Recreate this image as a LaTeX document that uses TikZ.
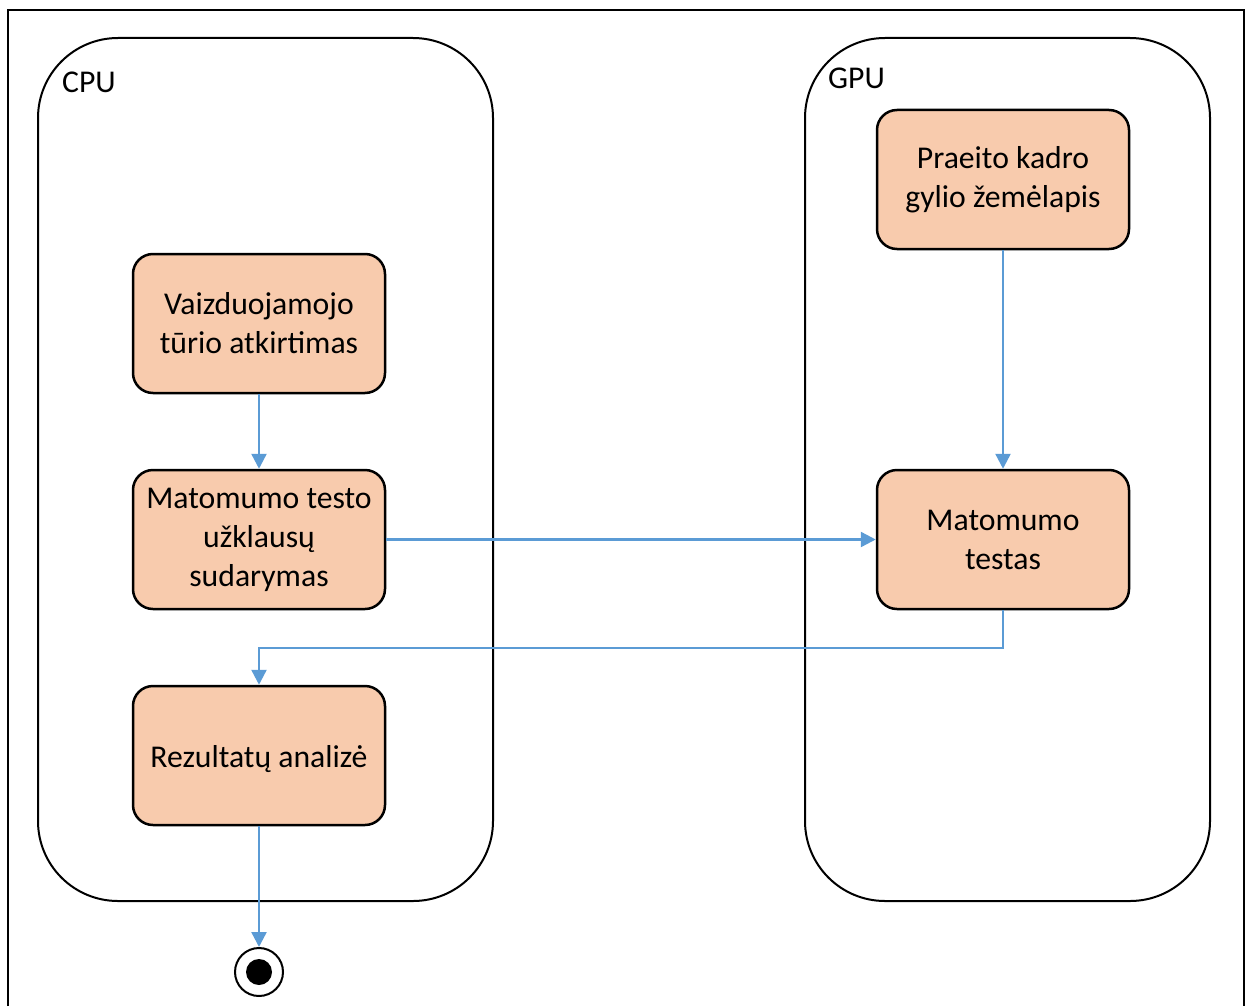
\documentclass[tikz,border=0pt]{standalone}
\usepackage{fontspec}
\setmainfont{Carlito}
\usetikzlibrary{arrows.meta}
\definecolor{peach}{HTML}{F8CBAD}
\definecolor{flow}{HTML}{5B9BD5}
\begin{document}
\begin{tikzpicture}[x=1pt,y=-1pt,
  lane/.style={draw, line width=2pt, rounded corners=80pt},
  act/.style={draw, line width=2.5pt, fill=peach, rounded corners=20pt, minimum width=252pt, minimum height=139pt, align=center, font=\fontsize{31.7}{39}\selectfont, inner sep=0pt, execute at begin node={\rule{0pt}{29pt}}},
  flowline/.style={draw=flow, line width=2.4pt, -{Triangle[length=15pt,width=15pt]}},
  lbl/.style={font=\fontsize{31.7}{39}\selectfont, anchor=west, inner sep=0pt}]
\useasboundingbox (0,0) rectangle (1246,1006);
\draw[line width=2pt] (8,1006) -- (8,10) -- (1244,10) -- (1244,1006);
\draw[lane] (38,38) rectangle (493,901);
\draw[lane] (805,38) rectangle (1210,901);
\node[lbl] (cpu) at (62,82) {CPU};
\node[lbl] (gpu) at (828,78) {GPU};
\node[act] (b1) at (259,323.5) {Vaizduojamojo\\tūrio atkirtimas};
\node[act] (b2) at (259,539.5) {Matomumo testo\\užklausų\\sudarymas};
\node[act] (b3) at (259,755.5) {Rezultatų analizė};
\node[act] (b4) at (1003,179.5) {Praeito kadro\\gylio žemėlapis};
\node[act] (b5) at (1003,539.5) {Matomumo\\testas};
\node[circle, draw, line width=2pt, minimum size=48pt, inner sep=0pt] (end) at (259,972) {};
\node[circle, fill=black, minimum size=26pt, inner sep=0pt] (endin) at (end) {};
\draw[flowline] (b1.south) -- (b2.north);
\draw[flowline] (b4.south) -- (b5.north);
\draw[flowline] (b2.east) -- (b5.west);
\draw[flowline] (b5.south) -- ++(0,38) -| (b3.north);
\draw[flowline] (b3.south) -- (end.north);
\end{tikzpicture}
\end{document}
